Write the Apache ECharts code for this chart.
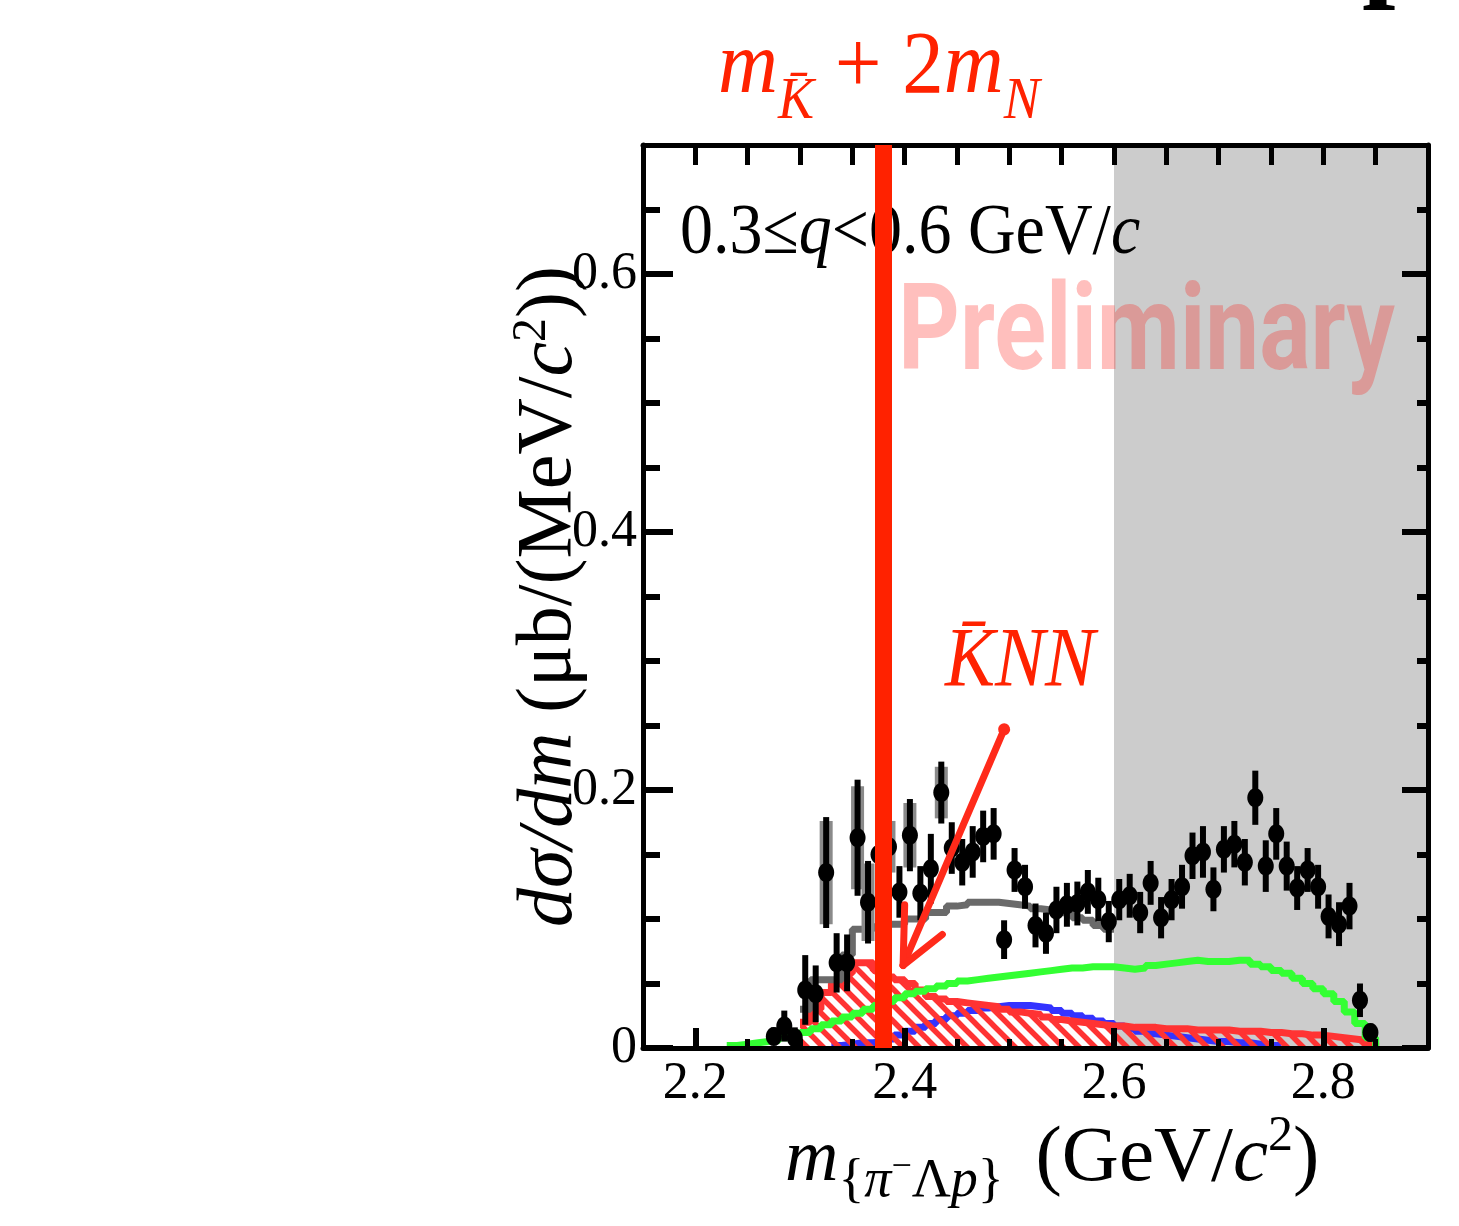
<!DOCTYPE html>
<html><head><meta charset="utf-8">
<script src="https://cdn.jsdelivr.net/npm/echarts@6/dist/echarts.min.js"></script>
<style>html,body{margin:0;padding:0;background:#fff}#c{width:1459px;height:1226px}</style>
</head><body><div id="c"></div>
<script>
// ---------------- data ----------------
const dataX = [2.275,2.285,2.295,2.305,2.315,2.325,2.335,2.345,2.355,2.365,2.375,2.385,2.395,2.405,2.415,2.425,2.435,2.445,2.455,2.465,2.475,2.485,2.495,2.505,2.515,2.525,2.535,2.545,2.555,2.565,2.575,2.585,2.595,2.605,2.615,2.625,2.635,2.645,2.655,2.665,2.675,2.685,2.695,2.705,2.715,2.725,2.735,2.745,2.755,2.765,2.775,2.785,2.795,2.805,2.815,2.825,2.835,2.845];
const dataY = [0.009,0.017,0.008,0.045,0.042,0.136,0.066,0.066,0.163,0.113,0.150,0.156,0.121,0.165,0.120,0.139,0.198,0.155,0.144,0.152,0.164,0.166,0.084,0.138,0.125,0.095,0.089,0.107,0.111,0.112,0.121,0.115,0.098,0.115,0.118,0.105,0.128,0.101,0.115,0.125,0.149,0.152,0.123,0.154,0.158,0.144,0.194,0.141,0.166,0.141,0.124,0.138,0.125,0.102,0.096,0.110,0.037,0.012];
const statErr = [0.007,0.012,0.008,0.027,0.022,0.043,0.023,0.022,0.045,0.032,0.030,0.028,0.020,0.028,0.021,0.027,0.024,0.020,0.018,0.020,0.020,0.020,0.015,0.017,0.017,0.017,0.016,0.018,0.017,0.017,0.017,0.017,0.016,0.016,0.017,0.016,0.017,0.016,0.016,0.017,0.018,0.020,0.017,0.018,0.018,0.018,0.021,0.020,0.020,0.019,0.017,0.017,0.017,0.017,0.017,0.018,0.013,0.007];
const systErr = [0,0,0,0,0,0.040,0,0,0.040,0.030,0,0.020,0,0.025,0,0,0.020,0,0,0,0,0,0,0,0,0,0,0,0,0,0,0,0,0,0,0,0,0,0,0,0,0,0,0,0,0,0,0,0,0,0,0,0,0,0,0,0,0];

const binW = 0.01;
const grayStart = 2.30;
const grayVals = [0.030,0.053,0.053,0.053,0.072,0.092,0.092,0.094,0.096,0.096,0.100,0.100,0.105,0.105,0.110,0.111,0.113,0.113,0.113,0.112,0.111,0.110,0.108,0.107,0.105,0.104,0.101,0.099,0.095,0.092];
const greenStart = 2.23;
const greenVals = [0.002,0.003,0.004,0.005,0.006,0.008,0.010,0.012,0.015,0.018,0.021,0.024,0.027,0.030,0.033,0.036,0.039,0.042,0.044,0.046,0.048,0.050,0.052,0.053,0.054,0.055,0.056,0.057,0.058,0.059,0.060,0.061,0.062,0.062,0.063,0.063,0.063,0.062,0.061,0.062,0.064,0.065,0.066,0.067,0.068,0.067,0.067,0.067,0.068,0.068,0.065,0.063,0.060,0.058,0.054,0.050,0.046,0.042,0.036,0.028,0.019,0.008];
const knnStart = 2.30;
const knnVals = [0.020,0.030,0.043,0.050,0.058,0.066,0.066,0.060,0.055,0.053,0.050,0.045,0.040,0.038,0.036,0.035,0.034,0.033,0.032,0.030,0.028,0.027,0.026,0.024,0.022,0.021,0.020,0.019,0.018,0.017,0.017,0.016,0.016,0.016,0.015,0.015,0.015,0.014,0.014,0.014,0.014,0.013,0.013,0.013,0.012,0.012,0.011,0.011,0.010,0.010,0.009,0.008,0.007,0.006,0.004];
const blueStart = 2.33;
const blueVals = [0.002,0.003,0.004,0.004,0.005,0.007,0.010,0.013,0.016,0.019,0.022,0.025,0.027,0.029,0.031,0.032,0.033,0.033,0.033,0.032,0.031,0.029,0.027,0.025,0.023,0.021,0.019,0.017,0.015,0.013,0.011,0.010,0.009,0.008,0.007,0.006,0.005,0.005,0.004,0.004,0.003,0.002,0.002];

const thresholdMass = 2.375;            // m_Kbar + 2 m_N
const shadedRange = [2.6, 2.9];
const arrowFrom = [2.495, 0.247];
const arrowTip = [2.3985, 0.064];
const arrowWing1 = [2.400, 0.111];
const arrowWing2 = [2.436, 0.088];

const xMajor = [2.2, 2.4, 2.6, 2.8];
const xMinor = [2.25, 2.3, 2.35, 2.45, 2.5, 2.55, 2.65, 2.7, 2.75, 2.85];
const yMajor = [0, 0.2, 0.4, 0.6];
const yMinor = [0.05, 0.1, 0.15, 0.25, 0.3, 0.35, 0.45, 0.5, 0.55, 0.65];

// ---------------- helpers ----------------
function stepData(start, vals, endVal) {
  const d = vals.map((v, i) => [+(start + i * binW).toFixed(3), v]);
  d.push([+(start + vals.length * binW).toFixed(3), endVal === undefined ? vals[vals.length - 1] : endVal]);
  return d;
}
const SERIF = '"Liberation Serif", "DejaVu Serif", serif';
const mctx = document.createElement('canvas').getContext('2d');
function textRow(pieces, x0, baseY, color, opts) {
  opts = opts || {};
  let x = 0; const children = [];
  pieces.forEach(p => {
    const fam = p.family || SERIF;
    const font = (p.italic ? 'italic ' : '') + (p.bold ? 'bold ' : '') + p.size + 'px ' + fam;
    mctx.font = font;
    const w = mctx.measureText(p.text).width;
    children.push({type: 'text', x: x + (p.dx || 0), y: (p.dy || 0) - 0.34 * p.size, silent: true, z: opts.z || 3,
      style: {text: p.text, font: font, fill: color, textAlign: 'left', textVerticalAlign: 'middle', align: 'left', verticalAlign: 'middle'}});
    x += w + (p.dx || 0) + (p.after || 0);
  });
  return {type: 'group', x: x0, y: baseY, scaleX: opts.scaleX || 1, scaleY: opts.scaleY || 1, z: opts.z || 3, silent: true, children};
}

// hatch pattern
const pat = document.createElement('canvas'); pat.width = 16; pat.height = 16;
(function(){ const g = pat.getContext('2d'); g.strokeStyle = '#ff3333'; g.lineWidth = 5.5; g.beginPath();
  g.moveTo(-8,-8); g.lineTo(24,24); g.moveTo(-8,8); g.lineTo(8,24); g.moveTo(8,-8); g.lineTo(24,8); g.stroke(); })();

const RED = '#ff2200';
const chart = echarts.init(document.getElementById('c'), null, {renderer: 'canvas'});

function tickAxis(pos, min, max, vals, len, width, showLine, labels) {
  return {type: 'value', position: pos, min, max, z: 20,
    splitLine: {show: false},
    axisLine: {show: !!showLine, onZero: false, lineStyle: {color: '#000', width: 5}},
    axisTick: {show: true, inside: true, length: len, lineStyle: {color: '#000', width: width}, customValues: vals},
    axisLabel: labels || {show: false}};
}
const xLab = {show: true, customValues: xMajor, formatter: v => (+v).toFixed(1), color: '#000', fontFamily: SERIF, fontSize: 52, margin: 10};
const yLab = {show: true, customValues: yMajor, formatter: v => (+v === 0 ? '0' : (+v).toFixed(1)), color: '#000', fontFamily: SERIF, fontSize: 52, margin: 6};

const yName = Object.assign(tickAxis('left', 0, 0.7, yMajor, 30, 6, true, yLab), {
  name: '{i|dσ/dm}{n| (μb/(MeV/}{i|c}{s|2}{n|))}', nameLocation: 'middle', nameRotate: 90, nameGap: 50, nameMoveOverlap: false,
  nameTextStyle: {color: '#000', fontFamily: SERIF, fontSize: 78, lineHeight: 86, rich: {
    i: {fontStyle: 'italic', fontFamily: SERIF, fontSize: 78, lineHeight: 86, color: '#000', verticalAlign: 'middle'},
    n: {fontFamily: SERIF, fontSize: 78, lineHeight: 86, color: '#000', verticalAlign: 'middle'},
    s: {fontFamily: SERIF, fontSize: 48, lineHeight: 48, padding: [0, 0, 36, 0], color: '#000', verticalAlign: 'middle'}}}
});

const option = {
  animation: false,
  backgroundColor: '#ffffff',
  grid: {left: 643, right: 31, top: 145, bottom: 178, containLabel: false},
  xAxis: [
    tickAxis('bottom', 2.15, 2.9, xMajor, 20, 6, true, xLab),
    tickAxis('bottom', 2.15, 2.9, xMinor, 9, 5, false),
    tickAxis('top', 2.15, 2.9, xMajor.concat(xMinor), 20, 5, true)
  ],
  yAxis: [
    yName,
    tickAxis('left', 0, 0.7, yMinor, 17, 6, false),
    tickAxis('right', 0, 0.7, yMajor, 26, 6, true),
    tickAxis('right', 0, 0.7, yMinor, 11, 6, false)
  ],
  series: [
    {name: 'shade', type: 'line', data: [], z: 1,
     markArea: {silent: true, z: 1, itemStyle: {color: '#cccccc'}, data: [[{xAxis: shadedRange[0]}, {xAxis: shadedRange[1]}]]}},
    {name: 'blue', type: 'line', step: 'end', showSymbol: false, z: 3, data: stepData(blueStart, blueVals),
     lineStyle: {color: '#3333ff', width: 7}},
    {name: 'KNN', type: 'line', step: 'end', showSymbol: false, z: 4, data: stepData(knnStart, knnVals, 0),
     lineStyle: {color: '#ff3333', width: 7}, areaStyle: {color: {image: pat, repeat: 'repeat'}, opacity: 1}},
    {name: 'green', type: 'line', step: 'end', showSymbol: false, z: 5, data: stepData(greenStart, greenVals, 0),
     lineStyle: {color: '#33ff33', width: 7}},
    {name: 'total', type: 'line', step: 'end', showSymbol: false, z: 5, data: stepData(grayStart, grayVals),
     lineStyle: {color: '#6a6a6a', width: 7}},
    {name: 'data', type: 'custom', z: 10, clip: true,
     data: dataX.map((x, i) => [x, dataY[i], statErr[i], systErr[i]]),
     renderItem: function (params, api) {
       const x = api.value(0), y = api.value(1), e = api.value(2), s = api.value(3);
       const c = api.coord([x, y]);
       const t = api.coord([x, y + e]), b = api.coord([x, Math.max(0, y - e)]);
       const ch = [];
       if (s > 0) {
         const st = api.coord([x, y + s]), sb = api.coord([x, Math.max(0, y - s)]);
         ch.push({type: 'rect', shape: {x: c[0] - 6.5, y: st[1], width: 13, height: sb[1] - st[1]}, style: {fill: '#8a8a8a'}});
       }
       ch.push({type: 'line', shape: {x1: c[0], y1: t[1], x2: c[0], y2: b[1]}, style: {stroke: '#000', lineWidth: 6}});
       ch.push({type: 'ellipse', shape: {cx: c[0], cy: c[1], rx: 8, ry: 9.5}, style: {fill: '#000'}});
       return {type: 'group', children: ch};
     }},
    {name: 'threshold', type: 'line', data: [], z: 50,
     markLine: {silent: true, z: 50, symbol: 'none', label: {show: false},
       lineStyle: {color: RED, width: 17, type: 'solid'}, data: [{xAxis: thresholdMass}]}},
    {name: 'arrow', type: 'line', data: [], z: 51,
     markLine: {silent: true, z: 51, label: {show: false}, symbol: 'none',
       lineStyle: {color: '#ff2a1a', width: 7, type: 'solid', cap: 'round'},
       data: [[{coord: arrowFrom, symbol: 'circle', symbolSize: 12}, {coord: arrowTip, symbol: 'none'}],
              [{coord: arrowTip, symbol: 'none'}, {coord: arrowWing1, symbol: 'none'}],
              [{coord: arrowTip, symbol: 'none'}, {coord: arrowWing2, symbol: 'none'}]]}}
  ],
  graphic: [
    textRow([{text: 'Preliminary', size: 96, bold: true, family: 'Roboto, "Open Sans", sans-serif'}], 898, 380, 'rgba(255,20,10,0.27)', {scaleY: 1.25, z: 3}),
    textRow([{text: '0.3≤', size: 66}, {text: 'q', size: 66, italic: true}, {text: '<0.6 GeV/', size: 66}, {text: 'c', size: 66, italic: true}], 680, 259, '#000', {scaleY: 1.1, z: 3}),
    textRow([{text: 'm', size: 83, italic: true}, {text: 'K\u0304', size: 54, italic: true, dy: 22}, {text: ' + 2', size: 83}, {text: 'm', size: 83, italic: true}, {text: 'N', size: 54, italic: true, dy: 22}], 718, 99, RED, {scaleY: 1.08, z: 60}),
    textRow([{text: 'K\u0304NN', size: 75, italic: true}], 945, 692, RED, {scaleY: 1.12, z: 60}),
    textRow([{text: 'm', size: 74, italic: true}, {text: '{', size: 54, dy: 14}, {text: 'π', size: 54, italic: true, dy: 14}, {text: '−', size: 36, dy: -6},
             {text: 'Λ', size: 54, dy: 14}, {text: 'p', size: 54, italic: true, dy: 14}, {text: '}', size: 54, dy: 14, after: 12},
             {text: ' (GeV/', size: 79}, {text: 'c', size: 79, italic: true}, {text: '2', size: 50, dy: -32}, {text: ')', size: 79}], 785, 1186, '#000', {z: 60}),
    textRow([{text: 'p', size: 120, bold: true}], 1362, -6, '#000', {z: 60})
  ]
};
chart.setOption(option);
</script>
</body></html>
